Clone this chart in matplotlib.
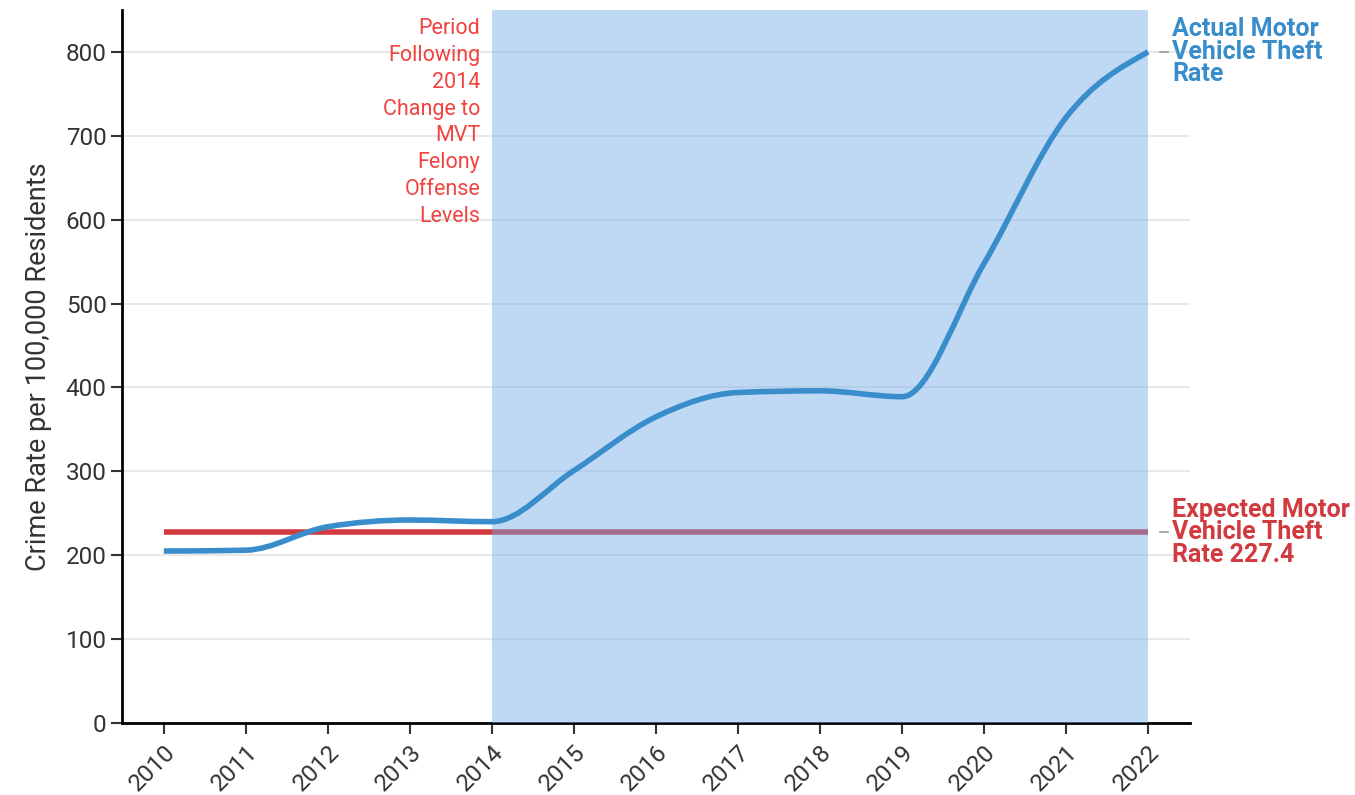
import numpy as np
import matplotlib
matplotlib.use("Agg")
import matplotlib.pyplot as plt
from matplotlib.path import Path
from matplotlib.patches import PathPatch

plt.rcParams['font.family'] = ['Roboto', 'DejaVu Sans']

years = [2010, 2011, 2012, 2013, 2014, 2015, 2016, 2017, 2018, 2019, 2020, 2021, 2022]
actual_rate = [205, 206, 234, 242, 240, 301, 365, 394, 396, 389, 548, 722, 800]
expected_rate = 227.4
shade_start, shade_end = 2014, 2022
y_ticks = [0, 100, 200, 300, 400, 500, 600, 700, 800]

blue = '#3a8dcb'
red = '#d13b40'
note_red = '#f0433f'


def monotone_path(x, y):
    # d3 curveMonotoneX as cubic bezier segments
    x = np.asarray(x, dtype=float)
    y = np.asarray(y, dtype=float)
    n = len(x)
    h = np.diff(x)
    s = np.diff(y) / h
    t = np.zeros(n)
    for i in range(1, n - 1):
        p = (s[i - 1] * h[i] + s[i] * h[i - 1]) / (h[i - 1] + h[i])
        t[i] = (np.sign(s[i - 1]) + np.sign(s[i])) * min(abs(s[i - 1]), abs(s[i]), 0.5 * abs(p))
    t[0] = (3 * s[0] - t[1]) / 2
    t[-1] = (3 * s[-1] - t[-2]) / 2
    verts = [(x[0], y[0])]
    codes = [Path.MOVETO]
    for i in range(n - 1):
        dx = h[i] / 3
        verts += [(x[i] + dx, y[i] + dx * t[i]),
                  (x[i + 1] - dx, y[i + 1] - dx * t[i + 1]),
                  (x[i + 1], y[i + 1])]
        codes += [Path.CURVE4] * 3
    return Path(verts, codes)


fig = plt.figure(figsize=(13.55, 7.95), dpi=100)
ax = fig.add_axes([122 / 1355, 1 - 723 / 795, (1190 - 122) / 1355, (723 - 10) / 795])

ax.set_xlim(2009.49, 2022.51)
ax.set_ylim(0, 850)

ax.set_yticks(y_ticks)
ax.set_xticks(years)
ax.set_xticklabels([str(y) for y in years], rotation=45, ha='right', va='top',
                   rotation_mode='anchor')
ax.tick_params(axis='both', labelsize=17.5, colors='#333333', length=8, width=1.5,
               direction='out')
ax.tick_params(axis='x', pad=5)
ax.tick_params(axis='y', pad=3)
for lab in ax.get_xticklabels() + ax.get_yticklabels():
    lab.set_color('#333333')
for tk in ax.xaxis.get_ticklines() + ax.yaxis.get_ticklines():
    tk.set_color('black')

ax.grid(axis='y', color='#e8e8e8', linewidth=1.5, zorder=0)
ax.set_axisbelow(True)
for side in ['top', 'right']:
    ax.spines[side].set_visible(False)
for side in ['left', 'bottom']:
    ax.spines[side].set_linewidth(2)
    ax.spines[side].set_color('black')

ax.set_ylabel('Crime Rate per 100,000 Residents', fontsize=19.5, color='#333333', labelpad=10)

# expected rate line (under the shading)
ax.plot([years[0], years[-1]], [expected_rate, expected_rate], color=red, linewidth=4,
        solid_capstyle='butt', zorder=2)

# shaded period
ax.axvspan(shade_start, shade_end, color='#73abe9', alpha=0.45, linewidth=0, zorder=3)

# actual rate curve
ax.add_patch(PathPatch(monotone_path(years, actual_rate), facecolor='none',
                       edgecolor=blue, linewidth=4, capstyle='butt', zorder=4))

# annotation of shaded period
ax.text(shade_start - 0.14, 840,
        'Period\nFollowing\n2014\nChange to\nMVT\nFelony\nOffense\nLevels',
        ha='right', va='top', fontsize=15.5, color=note_red, linespacing=1.36, zorder=5)

# end labels
ax.plot([years[-1] + 0.15, years[-1] + 0.24], [actual_rate[-1]] * 2, color='#999999',
        linewidth=1.2, clip_on=False)
ax.plot([years[-1] + 0.15, years[-1] + 0.24], [expected_rate] * 2, color='#999999',
        linewidth=1.2, clip_on=False)
ax.text(years[-1] + 0.29, actual_rate[-1], 'Actual Motor\nVehicle Theft\nRate',
        ha='left', va='center', fontsize=18, fontweight='bold', color=blue,
        linespacing=0.92, clip_on=False)
ax.text(years[-1] + 0.29, expected_rate,
        'Expected Motor\nVehicle Theft\nRate %.1f' % expected_rate,
        ha='left', va='center', fontsize=18, fontweight='bold', color=red,
        linespacing=0.92, clip_on=False)

fig.savefig('out.png', dpi=100)
